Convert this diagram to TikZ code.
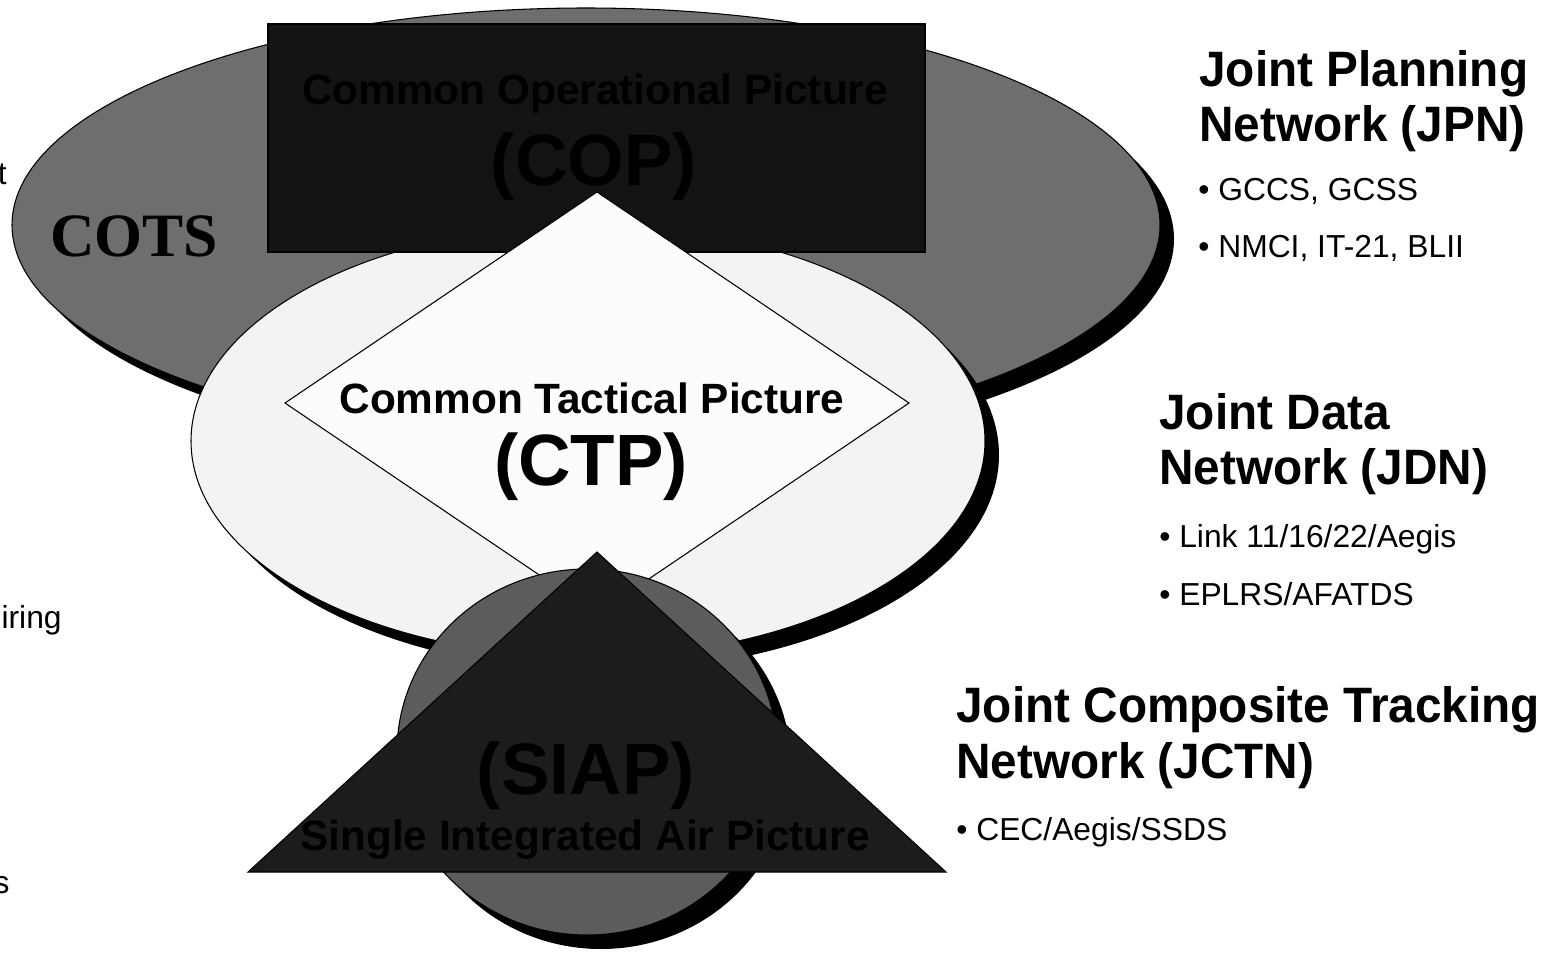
\documentclass[tikz,border=0pt]{standalone}
\usepackage{fontspec}
\setmainfont{Liberation Sans}
\newfontfamily\serifbold{Liberation Serif}
\newfontfamily\headfont[FakeStretch=0.96]{Liberation Sans}
\usepackage{tikz}

\definecolor{cotsgray}{HTML}{6E6E6E}
\definecolor{ctpgray}{HTML}{F3F3F3}
\definecolor{ctpwhite}{HTML}{FCFCFC}
\definecolor{copfill}{HTML}{131313}
\definecolor{siapgray}{HTML}{5C5C5C}
\definecolor{trifill}{HTML}{1C1C1C}

\begin{document}
\begin{tikzpicture}[x=0.02cm,y=-0.02cm,
  outline/.style={draw=black,line width=0.6pt},
  shade/.style={fill=black,draw=none},
  head/.style={anchor=base west,inner sep=0pt,font=\fontsize{28.3}{31}\selectfont\headfont\bfseries},
  item/.style={anchor=base west,inner sep=0pt,font=\fontsize{18.1}{20}\selectfont},
  title/.style={anchor=base,inner sep=0pt,font=\fontsize{24.1}{26}\selectfont\bfseries},
  acro/.style={anchor=base,inner sep=0pt,font=\fontsize{41.4}{44}\selectfont\bfseries}]
\fill[white] (0,0) rectangle (1566,953);
\useasboundingbox (0,0) rectangle (1566,953);
% COTS
\fill[shade] (600,239) ellipse [x radius=574,y radius=217];
\draw[outline,fill=cotsgray] (586,225) ellipse [x radius=574,y radius=217];
\node (cots) at (134,256) [anchor=base,inner sep=0pt,font={\fontsize{35.1}{38}\selectfont\serifbold\bfseries}] {COTS};
% CTP ellipse
\fill[shade] (602,455) ellipse [x radius=397,y radius=216];
\draw[outline,fill=ctpgray] (588,441) ellipse [x radius=397,y radius=216];
% COP
\draw[outline,fill=copfill] (268,24) rectangle (925,252);
\node (coptitle) at (595,105) [title] {Common Operational Picture};
\node (cop) at (594,186) [acro] {(COP)};
% CTP diamond
\draw[outline,fill=ctpwhite] (597,192) -- (909,403) -- (597,614) -- (285,403) -- cycle;
\node (ctptitle) at (592,413) [title] {Common Tactical Picture};
\node (ctp) at (591,485) [acro] {(CTP)};
% SIAP
\fill[shade] (601,766) ellipse [x radius=190,y radius=183];
\draw[outline,fill=siapgray] (587,752) ellipse [x radius=190,y radius=183];
\draw[outline,fill=trifill] (597,552) -- (946,872) -- (248,872) -- cycle;
\node (siap) at (586,794) [acro] {(SIAP)};
\node (siaptitle) at (585,850) [title] {Single Integrated Air Picture};
%
% cut off at the left
\node (cutt) at (7,185) [item,anchor=base east] {t};
\node (cutiring) at (62,628) [item,anchor=base east] {iring};
\node (cuts) at (10,893) [item,anchor=base east] {s};
%
% networks
\node (jpn) at (1199,87) [head] {Joint Planning};
\node (jpnb) at (1199,142) [head] {Network (JPN)};
\node (jpni) at (1198,200) [item] {• GCCS, GCSS};
\node (jpnii) at (1198,257) [item] {• NMCI, IT-21, BLII};
\node (jdn) at (1159,429) [head] {Joint Data};
\node (jdnb) at (1159,484) [head] {Network (JDN)};
\node (jdni) at (1159,547) [item] {• Link 11/16/22/Aegis};
\node (jdnii) at (1159,605) [item] {• EPLRS/AFATDS};
\node (jctn) at (956,722) [head] {Joint Composite Tracking};
\node (jctnb) at (956,778) [head] {Network (JCTN)};
\node (jctni) at (956,840) [item] {• CEC/Aegis/SSDS};
\end{tikzpicture}
\end{document}
